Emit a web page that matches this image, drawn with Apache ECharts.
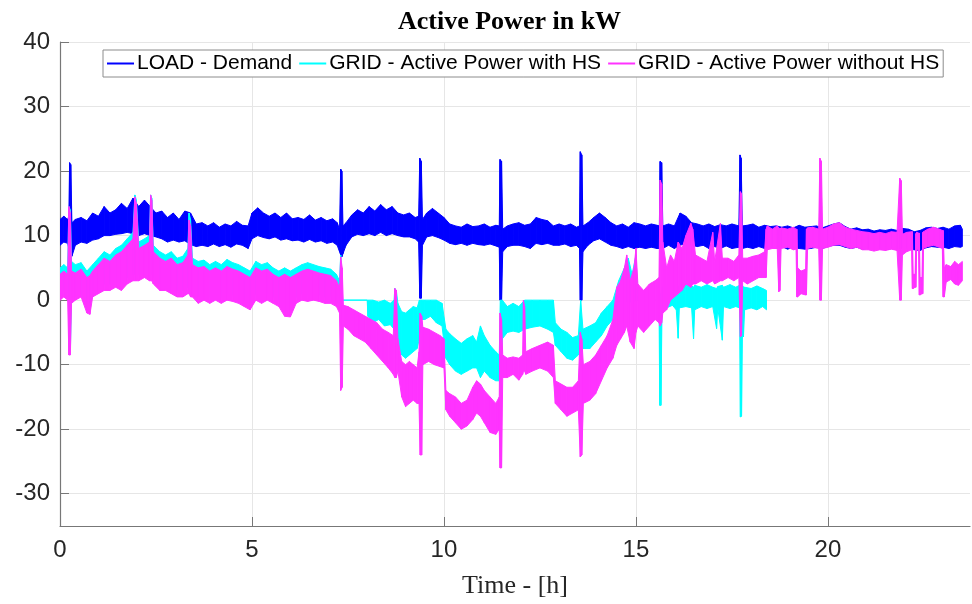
<!DOCTYPE html>
<html>
<head>
<meta charset="utf-8">
<script src="https://cdn.jsdelivr.net/npm/echarts@6/dist/echarts.min.js"></script>
<style>
  html, body { margin: 0; padding: 0; background: #fff; }
  #chart { width: 972px; height: 604px; }
</style>
</head>
<body>
<div id="chart"></div>
<script>
// rows are [time h, lower edge kW, upper edge kW] of the noisy band
const loadBand = [
  [0.00, 8.5, 12.5], [0.10, 9.0, 13.0], [0.20, 8.8, 12.5], [0.23, 8.0, 13.0], [0.25, 8.0, 21.3],
  [0.28, 6.7, 21.0], [0.31, 6.8, 12.0], [0.40, 8.5, 12.5], [0.55, 9.0, 12.8], [0.70, 8.8, 12.3],
  [0.85, 9.3, 13.5], [1.00, 9.5, 13.0], [1.15, 10.0, 14.5], [1.30, 10.0, 13.5], [1.45, 10.2, 14.0],
  [1.60, 10.3, 15.0], [1.75, 10.5, 14.2], [1.90, 10.3, 15.8], [2.05, 10.0, 14.5], [2.20, 10.3, 15.5],
  [2.35, 10.0, 14.5], [2.50, 9.8, 13.5], [2.65, 9.5, 13.8], [2.80, 9.0, 12.8], [2.95, 9.3, 13.5],
  [3.10, 9.0, 12.5], [3.25, 9.2, 13.8], [3.40, 8.6, 13.5], [3.55, 8.3, 11.8], [3.70, 8.5, 12.0],
  [3.85, 8.3, 11.5], [4.00, 8.7, 12.0], [4.15, 8.3, 11.3], [4.30, 8.6, 11.8], [4.45, 8.2, 11.5],
  [4.60, 8.7, 12.2], [4.75, 8.5, 11.6], [4.90, 8.0, 11.5], [5.00, 9.5, 13.5], [5.15, 10.0, 14.3],
  [5.30, 9.7, 13.5], [5.45, 9.5, 13.0], [5.60, 9.8, 13.5], [5.75, 9.3, 12.8], [5.90, 9.5, 13.5],
  [6.05, 9.2, 12.6], [6.20, 9.3, 12.8], [6.35, 9.0, 12.5], [6.50, 9.4, 13.2], [6.65, 9.0, 12.4],
  [6.80, 9.2, 12.8], [6.95, 8.8, 12.3], [7.10, 9.0, 12.6], [7.22, 8.5, 12.0], [7.28, 7.5, 11.0],
  [7.31, 7.0, 20.3], [7.34, 6.7, 20.0], [7.37, 7.2, 11.5], [7.45, 8.5, 12.0], [7.60, 9.8, 13.2],
  [7.75, 10.2, 14.0], [7.90, 10.0, 13.5], [8.05, 10.3, 14.5], [8.20, 10.0, 13.8], [8.35, 10.5, 14.8],
  [8.50, 10.0, 14.0], [8.65, 10.3, 14.5], [8.80, 10.0, 13.5], [8.95, 9.8, 13.2], [9.10, 9.8, 13.5],
  [9.25, 9.5, 12.8], [9.34, 9.0, 13.0], [9.37, 0.3, 22.0], [9.41, 0.3, 21.5], [9.44, 8.5, 12.5],
  [9.55, 9.8, 13.5], [9.70, 10.0, 14.2], [9.85, 9.7, 13.5], [10.00, 9.3, 12.8], [10.15, 8.8, 11.8],
  [10.30, 8.6, 11.5], [10.45, 8.8, 11.3], [10.60, 8.5, 11.8], [10.75, 8.8, 11.4], [10.90, 8.6, 11.5],
  [11.05, 8.5, 11.8], [11.20, 8.7, 11.3], [11.35, 8.4, 11.6], [11.44, 8.2, 11.5], [11.46, 0.0, 21.8],
  [11.50, 0.0, 21.5], [11.53, 7.5, 11.0], [11.65, 8.3, 11.5], [11.80, 8.5, 11.8], [11.95, 8.5, 12.0],
  [12.10, 8.3, 11.6], [12.25, 8.0, 11.8], [12.40, 8.8, 12.8], [12.55, 8.6, 12.5], [12.70, 8.8, 12.3],
  [12.85, 8.5, 11.5], [13.00, 8.5, 11.8], [13.15, 8.7, 11.5], [13.30, 8.3, 11.8], [13.45, 8.5, 11.3],
  [13.53, 8.0, 11.5], [13.55, 0.0, 23.0], [13.59, 0.0, 22.5], [13.62, 7.5, 11.5], [13.75, 8.5, 12.0],
  [13.90, 9.2, 12.8], [14.05, 9.5, 13.5], [14.20, 9.0, 12.8], [14.35, 8.5, 12.0], [14.50, 8.3, 11.5],
  [14.65, 8.0, 11.8], [14.80, 8.3, 11.3], [14.95, 8.0, 12.0], [15.10, 8.2, 11.8], [15.25, 8.0, 11.5],
  [15.40, 8.2, 11.8], [15.55, 8.0, 11.6], [15.61, 8.0, 11.5], [15.63, 8.0, 21.5], [15.67, 8.0, 21.3],
  [15.70, 8.0, 11.5], [15.85, 8.5, 11.8], [16.00, 8.0, 11.5], [16.15, 8.5, 13.5], [16.30, 8.8, 13.0],
  [16.45, 8.5, 12.0], [16.60, 8.3, 11.8], [16.75, 8.5, 11.5], [16.90, 8.0, 11.8], [17.05, 8.3, 11.4],
  [17.20, 8.0, 11.7], [17.35, 8.4, 11.5], [17.50, 8.0, 11.8], [17.68, 8.2, 11.5], [17.71, 8.0, 22.5],
  [17.74, 8.0, 22.0], [17.77, 8.0, 11.5], [17.90, 8.2, 11.6], [18.05, 8.0, 11.8], [18.20, 8.3, 11.3],
  [18.35, 8.0, 11.6], [18.50, 8.2, 11.4], [18.65, 8.0, 11.5], [18.80, 8.3, 11.3], [18.95, 7.9, 11.5],
  [19.10, 8.2, 11.2], [19.25, 8.0, 11.6], [19.40, 7.9, 11.3], [19.55, 8.0, 11.4], [19.70, 8.2, 11.5],
  [19.85, 8.0, 11.2], [20.00, 8.3, 11.5], [20.15, 8.5, 11.8], [20.30, 8.5, 12.0], [20.45, 8.2, 11.4],
  [20.60, 8.0, 11.0], [20.75, 8.2, 11.2], [20.90, 7.9, 10.9], [21.05, 8.0, 11.0], [21.20, 7.8, 10.7],
  [21.35, 8.0, 10.9], [21.50, 7.8, 10.8], [21.65, 8.0, 11.0], [21.80, 7.9, 10.8], [21.95, 8.1, 11.1],
  [22.10, 8.0, 11.0], [22.25, 7.8, 10.6], [22.40, 7.7, 10.8], [22.55, 8.1, 11.2], [22.70, 8.3, 11.3],
  [22.85, 8.2, 11.1], [23.00, 8.2, 11.3], [23.15, 8.0, 11.0], [23.30, 8.3, 11.5], [23.45, 8.2, 11.6],
  [23.50, 8.3, 11.0]
];

const gridWithHsBand = [
  [0.00, 1.0, 5.0], [0.10, 1.5, 5.5], [0.20, 1.5, 5.0], [0.23, 0.5, 14.5], [0.27, -8.0, 14.0],
  [0.30, 0.5, 6.0], [0.40, 0.5, 5.5], [0.55, 1.0, 5.8], [0.70, -1.5, 4.5], [0.85, 1.0, 5.5],
  [1.00, 2.0, 6.5], [1.15, 2.5, 7.5], [1.30, 2.5, 7.0], [1.45, 3.0, 8.0], [1.60, 2.5, 8.5],
  [1.75, 3.5, 9.5], [1.90, 4.0, 10.5], [1.95, 4.0, 16.3], [1.99, 4.0, 15.5], [2.05, 4.0, 9.0],
  [2.20, 4.5, 9.5], [2.33, 4.0, 10.0], [2.36, 4.0, 16.3], [2.39, 4.0, 15.8], [2.43, 3.5, 8.5],
  [2.60, 2.5, 7.5], [2.75, 2.5, 7.0], [2.90, 2.0, 7.5], [3.05, 1.5, 6.5], [3.20, 1.5, 6.8],
  [3.33, 2.0, 8.0], [3.36, 2.0, 13.5], [3.40, 1.5, 12.5], [3.45, 1.5, 6.5], [3.60, 0.5, 6.0],
  [3.75, 1.0, 6.2], [3.90, 0.5, 5.5], [4.05, 1.0, 6.0], [4.20, 0.5, 5.5], [4.35, 1.0, 6.3],
  [4.50, 0.8, 5.8], [4.65, 0.5, 5.5], [4.80, 0.0, 5.0], [4.95, -0.5, 4.5], [5.10, 1.0, 6.0],
  [5.25, 0.5, 5.5], [5.40, 1.0, 5.8], [5.55, 0.5, 5.0], [5.70, 0.0, 4.5], [5.85, -1.0, 5.0],
  [6.00, -1.5, 4.5], [6.15, 0.5, 5.0], [6.30, 1.0, 5.5], [6.45, 0.8, 5.8], [6.60, 1.0, 5.5],
  [6.75, 0.8, 5.2], [6.90, 0.5, 5.0], [7.05, 0.5, 4.8], [7.20, 0.0, 4.0], [7.28, -1.0, 3.0],
  [7.31, -1.0, 7.0], [7.34, 0.0, 0.0], [8.00, 0.0, 0.0], [8.02, -2.5, 0.0], [8.15, -3.5, 0.0],
  [8.30, -3.0, -0.3], [8.45, -4.0, 0.0], [8.60, -3.8, -0.5], [8.70, -4.5, 0.0], [8.72, -5.0, 1.8],
  [8.76, -6.0, 1.5], [8.80, -7.0, -0.5], [8.90, -8.5, -1.8], [9.00, -9.0, -2.0], [9.10, -8.5, -1.5],
  [9.20, -8.0, -1.0], [9.30, -7.5, -1.2], [9.36, -6.0, 0.0], [9.40, -3.0, 0.0], [9.50, -3.0, 0.0],
  [9.65, -2.5, 0.0], [9.80, -3.5, 0.0], [9.95, -4.0, -0.5], [10.05, -9.0, -4.5], [10.15, -10.0, -5.2],
  [10.30, -11.0, -6.0], [10.45, -11.5, -6.7], [10.60, -11.0, -6.0], [10.75, -10.5, -5.5], [10.85, -10.5, -6.5],
  [10.95, -12.0, -4.0], [11.05, -11.0, -5.5], [11.20, -12.0, -7.0], [11.35, -12.5, -8.0], [11.44, -12.5, -8.5],
  [11.47, -12.0, 0.0], [11.52, -6.0, 0.0], [11.65, -5.0, -1.0], [11.80, -4.8, -0.5], [11.95, -5.0, -1.0],
  [12.10, -4.5, 0.0], [12.30, -4.2, 0.0], [12.50, -4.0, 0.0], [12.70, -4.5, 0.0], [12.85, -5.0, 0.0],
  [12.90, -7.0, -3.5], [13.05, -8.0, -4.5], [13.20, -9.0, -5.0], [13.35, -9.3, -5.8], [13.50, -8.5, -5.5],
  [13.56, -8.0, 0.0], [13.62, -7.5, -4.5], [13.80, -7.5, -4.0], [13.95, -6.5, -3.5], [14.10, -5.5, -2.0],
  [14.25, -4.0, -1.0], [14.40, -3.0, 0.0], [14.55, -1.0, 3.0], [14.70, -0.5, 5.0], [14.80, 0.0, 6.5],
  [14.90, -0.5, 4.0], [15.00, 0.0, 7.0], [15.05, 0.0, 0.5], [15.15, 0.0, 0.0], [15.60, 0.0, 0.0],
  [15.62, -16.3, 0.0], [15.65, -16.3, 1.0], [15.68, -1.0, 2.0], [15.80, -1.2, 2.3], [15.95, -0.8, 2.0],
  [16.05, -1.5, 2.5], [16.10, -5.9, 2.2], [16.13, -1.2, 2.0], [16.30, -1.0, 2.5], [16.45, -1.2, 2.2],
  [16.50, -6.0, 2.0], [16.53, -1.5, 2.3], [16.70, -1.0, 2.0], [16.85, -1.3, 2.4], [17.00, -1.0, 2.0],
  [17.10, -4.4, 1.8], [17.13, -1.2, 2.1], [17.25, -6.2, 2.3], [17.28, -1.0, 2.0], [17.45, -1.3, 2.4],
  [17.60, -1.0, 2.0], [17.70, -1.2, 2.3], [17.72, -18.1, 2.0], [17.75, -18.0, 2.0], [17.78, -1.5, 2.2],
  [17.80, -5.7, 2.0], [17.83, -1.5, 2.0], [18.00, -1.2, 1.8], [18.15, -1.5, 2.2], [18.30, -1.0, 1.8],
  [18.40, -1.5, 1.5]
];

const gridWithoutHsBand = [
  [0.00, 0.0, 4.0], [0.10, 0.5, 4.5], [0.20, 0.0, 4.0], [0.23, -8.5, 14.5], [0.27, -8.5, 13.5],
  [0.30, -0.5, 4.5], [0.40, 0.0, 4.2], [0.55, 0.5, 4.8], [0.70, -2.0, 3.5], [0.78, -2.2, 3.8],
  [0.85, 0.5, 4.5], [1.00, 1.0, 5.5], [1.15, 1.5, 6.5], [1.30, 1.5, 6.0], [1.45, 2.0, 7.0],
  [1.60, 1.5, 7.5], [1.75, 2.5, 8.5], [1.90, 3.0, 9.5], [1.95, 3.0, 16.0], [1.99, 3.0, 15.0],
  [2.05, 3.0, 8.0], [2.20, 3.5, 8.5], [2.33, 3.0, 9.0], [2.36, 3.0, 16.3], [2.39, 3.0, 15.5],
  [2.43, 2.5, 7.5], [2.60, 1.5, 6.5], [2.75, 1.5, 6.0], [2.90, 1.0, 6.5], [3.05, 0.5, 5.5],
  [3.20, 0.5, 5.8], [3.33, 1.0, 7.0], [3.36, 1.0, 12.4], [3.40, 0.5, 11.5], [3.45, 0.5, 5.5],
  [3.60, -0.5, 5.0], [3.75, 0.0, 5.2], [3.90, -0.5, 4.5], [4.05, 0.0, 5.0], [4.20, -0.5, 4.5],
  [4.35, 0.0, 5.2], [4.50, -0.2, 4.8], [4.65, -0.5, 4.5], [4.80, -1.0, 4.0], [4.95, -1.5, 3.5],
  [5.10, 0.0, 5.0], [5.25, -0.5, 4.5], [5.40, 0.0, 4.8], [5.55, -0.5, 4.0], [5.70, -1.0, 3.5],
  [5.85, -2.5, 4.0], [6.00, -2.6, 3.5], [6.15, -0.5, 4.0], [6.30, 0.0, 4.5], [6.45, -0.2, 4.8],
  [6.60, 0.0, 4.5], [6.75, -0.2, 4.2], [6.90, -0.5, 4.0], [7.05, -0.5, 3.8], [7.20, -1.0, 3.0],
  [7.28, -2.0, 2.0], [7.31, -14.0, 6.7], [7.35, -13.5, 5.0], [7.38, -4.0, -0.8], [7.50, -4.5, -1.0],
  [7.65, -5.5, -1.5], [7.80, -6.0, -2.0], [7.95, -6.5, -2.5], [8.10, -7.5, -3.0], [8.25, -8.5, -3.5],
  [8.40, -9.5, -4.5], [8.55, -10.5, -5.0], [8.68, -11.5, -5.5], [8.72, -12.0, 1.8], [8.76, -12.0, 1.5],
  [8.80, -11.0, -6.0], [8.90, -15.0, -9.5], [9.00, -16.5, -10.0], [9.10, -16.0, -9.5], [9.20, -15.5, -10.0],
  [9.30, -16.0, -10.5], [9.35, -16.0, -8.0], [9.38, -24.0, -2.0], [9.42, -24.0, -2.5], [9.45, -10.0, -4.2],
  [9.60, -9.5, -4.5], [9.75, -10.0, -5.0], [9.90, -10.3, -5.5], [10.00, -10.5, -6.0], [10.05, -17.0, -14.0],
  [10.15, -18.0, -14.5], [10.30, -19.0, -15.0], [10.45, -20.0, -16.0], [10.60, -19.5, -15.5], [10.75, -18.5, -13.5],
  [10.85, -17.5, -12.5], [10.95, -18.0, -13.0], [11.05, -19.0, -14.0], [11.20, -20.5, -15.0], [11.35, -20.8, -16.0],
  [11.44, -20.0, -15.0], [11.46, -26.0, -2.0], [11.50, -26.0, -3.0], [11.53, -12.0, -8.5], [11.65, -12.0, -9.0],
  [11.80, -11.5, -8.8], [11.95, -12.4, -9.0], [12.05, -11.5, -8.5], [12.07, -11.0, 0.0], [12.10, -11.0, -1.0],
  [12.13, -11.5, -8.0], [12.30, -11.0, -7.5], [12.50, -10.5, -7.0], [12.70, -11.0, -6.5], [12.85, -12.0, -7.0],
  [12.90, -16.0, -12.5], [13.05, -17.0, -13.0], [13.20, -18.0, -13.5], [13.35, -17.5, -13.5], [13.50, -17.0, -12.5],
  [13.55, -24.3, -5.0], [13.59, -24.0, -6.0], [13.63, -16.0, -10.0], [13.80, -15.5, -9.5], [13.95, -14.5, -8.5],
  [14.10, -12.5, -7.0], [14.25, -10.5, -5.5], [14.40, -9.0, -3.0], [14.50, -7.0, 2.0], [14.60, -6.0, 3.0],
  [14.70, -5.0, 5.0], [14.76, -4.0, 7.0], [14.85, -6.5, 3.0], [14.95, -7.5, 5.0], [15.00, -5.0, 8.0],
  [15.05, -4.0, 2.5], [15.20, -5.0, 1.5], [15.35, -4.0, 2.5], [15.50, -3.0, 3.0], [15.60, -3.5, 3.5],
  [15.63, -4.0, 18.6], [15.67, -3.5, 18.0], [15.70, -2.0, 9.0], [15.80, -1.5, 5.0], [15.90, 0.0, 7.0],
  [16.00, 0.5, 6.0], [16.10, 1.0, 9.0], [16.20, 1.5, 8.0], [16.30, 2.5, 10.0], [16.43, 2.0, 11.9],
  [16.48, 2.5, 11.0], [16.55, 2.5, 7.0], [16.70, 3.0, 6.5], [16.85, 2.5, 6.0], [17.00, 3.0, 10.5],
  [17.05, 2.5, 6.0], [17.20, 3.0, 11.9], [17.25, 3.0, 6.5], [17.40, 3.5, 6.5], [17.55, 3.0, 6.0],
  [17.68, 3.5, 7.0], [17.72, -5.7, 16.8], [17.75, -5.5, 16.5], [17.78, 3.0, 6.5], [17.90, 2.5, 6.5],
  [18.05, 3.0, 6.8], [18.20, 3.5, 7.0], [18.35, 3.5, 7.5], [18.39, 3.5, 11.0], [18.42, 7.8, 11.5],
  [18.55, 8.0, 11.0], [18.68, 8.0, 11.5], [18.72, 1.3, 11.2], [18.75, 1.5, 11.0], [18.78, 8.0, 11.2],
  [18.95, 8.2, 11.0], [19.10, 7.8, 11.3], [19.17, 7.9, 11.0], [19.19, 0.5, 11.0], [19.21, 0.5, 5.0],
  [19.30, 1.0, 4.5], [19.42, 0.8, 4.8], [19.44, 0.8, 11.0], [19.47, 8.0, 11.2], [19.60, 8.2, 11.3],
  [19.76, 8.0, 11.0], [19.79, 0.0, 22.0], [19.83, 0.0, 21.5], [19.86, 8.0, 11.0], [20.00, 8.2, 11.3],
  [20.15, 8.5, 11.8], [20.30, 8.6, 12.0], [20.45, 8.3, 11.3], [20.60, 8.0, 11.0], [20.75, 8.2, 10.8],
  [20.90, 7.8, 10.6], [21.05, 7.8, 10.5], [21.20, 7.6, 10.3], [21.35, 7.8, 10.5], [21.50, 7.7, 10.3],
  [21.65, 7.9, 10.6], [21.80, 7.7, 10.5], [21.87, 0.0, 18.9], [21.91, 0.0, 18.5], [21.94, 7.0, 10.2],
  [22.05, 7.5, 10.5], [22.18, 7.8, 10.6], [22.20, 1.8, 10.6], [22.22, 1.8, 4.0], [22.27, 2.0, 4.0],
  [22.29, 2.0, 10.3], [22.31, 7.8, 10.5], [22.36, 7.8, 10.4], [22.38, 0.8, 10.4], [22.40, 0.8, 3.5],
  [22.45, 1.0, 3.5], [22.47, 1.0, 10.5], [22.49, 8.0, 10.6], [22.60, 8.3, 11.0], [22.75, 8.5, 11.3],
  [22.90, 8.2, 11.0], [22.98, 8.0, 10.8], [23.00, 0.5, 10.8], [23.03, 0.5, 5.0], [23.08, 2.8, 5.5],
  [23.20, 3.2, 5.2], [23.30, 2.5, 6.0], [23.40, 2.3, 5.5], [23.50, 3.0, 6.0]
];

const seriesNames = ['LOAD - Demand', 'GRID - Active Power with HS', 'GRID - Active Power without HS'];
const seriesColors = ['#0000ff', '#00ffff', '#ff33ff'];
const xTicks = [0, 5, 10, 15, 20];
const yTicks = [-30, -20, -10, 0, 10, 20, 30, 40];

// consecutive rows -> one quad each: [t0, lo0, hi0, t1, lo1, hi1]
function toSegments(band) {
  let segs = [];
  for (let i = 0; i < band.length - 1; i++) {
    segs.push(band[i].concat(band[i + 1]));
  }
  return segs;
}

function renderBand(params, api) {
  const color = api.visual('color');
  const a = api.coord([api.value(0), api.value(2)]);
  const b = api.coord([api.value(3), api.value(5)]);
  const c = api.coord([api.value(3), api.value(4)]);
  const d = api.coord([api.value(0), api.value(1)]);
  return {
    type: 'polygon',
    shape: { points: [a, b, c, d] },
    style: { fill: color, stroke: color, lineWidth: 1 }
  };
}

const bands = [loadBand, gridWithHsBand, gridWithoutHsBand];
const series = bands.map((band, i) => {
  return {
    name: seriesNames[i],
    type: 'custom',
    renderItem: renderBand,
    itemStyle: { color: seriesColors[i] },
    encode: { x: [0, 3], y: [1, 2, 4, 5] },
    data: toSegments(band),
    clip: true,
    animation: false
  };
});

const chart = echarts.init(document.getElementById('chart'), null, { renderer: 'canvas' });
chart.setOption({
  backgroundColor: '#ffffff',
  animation: false,
  title: {
    text: 'Active Power in kW',
    left: 398,
    top: 9,
    padding: 0,
    textStyle: {
      fontFamily: 'Liberation Serif',
      fontWeight: 'bold',
      fontSize: 26,
      color: '#000'
    }
  },
  legend: {
    left: 103,
    top: 50,
    padding: [3, 4, 3, 4],
    itemGap: 7,
    itemWidth: 27,
    itemHeight: 2,
    borderColor: '#8c8c8c',
    borderWidth: 1,
    backgroundColor: '#fff',
    data: seriesNames.map(n => ({ name: n, icon: 'rect' })),
    textStyle: {
      fontFamily: 'Liberation Sans',
      fontSize: 21,
      color: '#000',
      padding: [0, 0, 0, -2]
    }
  },
  grid: {
    left: 60,
    right: 2,
    top: 42,
    bottom: 78
  },
  xAxis: {
    type: 'value',
    min: 0,
    max: 23.7,
    name: 'Time - [h]',
    nameLocation: 'middle',
    nameGap: 47,
    nameTextStyle: {
      fontFamily: 'Liberation Serif',
      fontSize: 26,
      color: '#262626'
    },
    axisLine: { onZero: false, lineStyle: { color: '#777', width: 1.2 } },
    axisTick: { inside: true, length: 9, customValues: xTicks, lineStyle: { color: '#777' } },
    axisLabel: {
      customValues: xTicks,
      fontFamily: 'Liberation Sans',
      fontSize: 24,
      color: '#262626',
      margin: 12
    },
    splitLine: { show: true, lineStyle: { color: '#e6e6e6' } }
  },
  yAxis: {
    type: 'value',
    min: -35,
    max: 40,
    axisLine: { show: true, onZero: false, lineStyle: { color: '#777', width: 1.2 } },
    axisTick: { show: true, inside: true, length: 9, customValues: yTicks, lineStyle: { color: '#777' } },
    axisLabel: {
      customValues: yTicks,
      fontFamily: 'Liberation Sans',
      fontSize: 24,
      color: '#262626',
      margin: 10
    },
    splitLine: { show: true, lineStyle: { color: '#e6e6e6' } }
  },
  series: series
});
</script>
</body>
</html>
